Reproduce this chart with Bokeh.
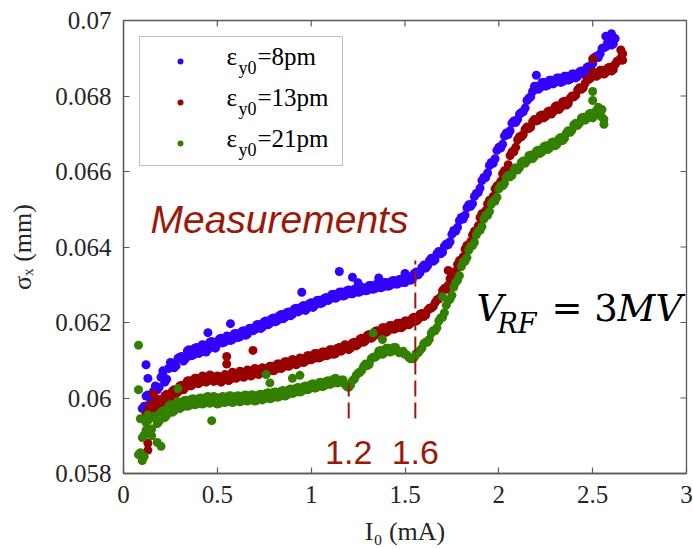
from bokeh.plotting import figure
from bokeh.models import FixedTicker, CustomJSTickFormatter, Label, BoxAnnotation
from bokeh.embed import file_html
from bokeh.resources import INLINE

# ---------------- data ----------------
blue_x = [
    0.10, 0.12, 0.14, 0.16, 0.18, 0.20, 0.22, 0.24, 0.26, 0.28,
    0.30, 0.32, 0.34, 0.36, 0.38, 0.40, 0.42, 0.44, 0.46, 0.48,
    0.50, 0.52, 0.54, 0.56, 0.58, 0.60, 0.62, 0.64, 0.66, 0.68,
    0.70, 0.72, 0.74, 0.76, 0.78, 0.80, 0.82, 0.84, 0.86, 0.88,
    0.90, 0.92, 0.94, 0.96, 0.98, 1.00, 1.02, 1.04, 1.06, 1.08,
    1.10, 1.12, 1.14, 1.16, 1.18, 1.20, 1.22, 1.24, 1.26, 1.28,
    1.30, 1.32, 1.34, 1.36, 1.38, 1.40, 1.42, 1.44, 1.46, 1.48,
    1.50, 1.52, 1.54, 1.56, 1.58, 1.60, 1.62, 1.64, 1.66, 1.68,
    1.70, 1.72, 1.74, 1.76, 1.78, 1.80, 1.82, 1.84, 1.86, 1.88,
    1.90, 1.92, 1.94, 1.96, 1.98, 2.00, 2.02, 2.04, 2.06, 2.08,
    2.10, 2.12, 2.14, 2.16, 2.18, 2.20, 2.22, 2.24, 2.26, 2.28,
    2.30, 2.32, 2.34, 2.36, 2.38, 2.40, 2.42, 2.44, 2.46, 2.48,
    2.50, 2.52, 2.54, 2.56, 2.58, 2.60, 2.62,
    0.11, 0.13, 0.15, 0.17, 0.19, 0.21, 0.23, 0.25, 0.27, 0.29,
    0.31, 0.33, 0.35, 0.37, 0.39, 0.41, 0.43, 0.45, 0.47, 0.49,
    0.51, 0.53, 0.55, 0.57, 0.59, 0.61, 0.63, 0.65, 0.67, 0.69,
    0.71, 0.73, 0.75, 0.77, 0.79, 0.81, 0.83, 0.85, 0.87, 0.89,
    0.91, 0.93, 0.95, 0.97, 0.99, 1.01, 1.03, 1.05, 1.07, 1.09,
    1.11, 1.13, 1.15, 1.17, 1.19, 1.21, 1.23, 1.25, 1.27, 1.29,
    1.31, 1.33, 1.35, 1.37, 1.39, 1.41, 1.43, 1.45, 1.47, 1.49,
    1.51, 1.53, 1.55, 1.57, 1.59, 1.61, 1.63, 1.65, 1.67, 1.69,
    1.71, 1.73, 1.75, 1.77, 1.79, 1.81, 1.83, 1.85, 1.87, 1.89,
    1.91, 1.93, 1.95, 1.97, 1.99, 2.01, 2.03, 2.05, 2.07, 2.09,
    2.11, 2.13, 2.15, 2.17, 2.19, 2.21, 2.23, 2.25, 2.27, 2.29,
    2.31, 2.33, 2.35, 2.37, 2.39, 2.41, 2.43, 2.45, 2.47, 2.49,
    2.51, 2.53, 2.55, 2.57, 2.59, 2.61,
    0.12, 0.13, 0.21, 0.45, 0.57, 0.95, 1.15, 1.22, 1.25, 1.36, 1.50, 2.20, 2.57, 2.60,
]
blue_y = [
    0.05972, 0.06005, 0.05985, 0.06018, 0.06022, 0.06055, 0.06042, 0.06078, 0.06092, 0.06085,
    0.06108, 0.06098, 0.06125, 0.06112, 0.06132, 0.06118, 0.06141, 0.06122, 0.06148, 0.06135,
    0.06142, 0.06158, 0.06149, 0.06163, 0.06155, 0.06171, 0.06162, 0.06178, 0.06169, 0.06185,
    0.06182, 0.06195, 0.06188, 0.06204, 0.06198, 0.06212, 0.06205, 0.06221, 0.06214, 0.06228,
    0.06222, 0.06238, 0.06231, 0.06245, 0.06238, 0.06252, 0.06246, 0.06259, 0.06252, 0.06266,
    0.06262, 0.06275, 0.06268, 0.06281, 0.06272, 0.06286, 0.06276, 0.06289, 0.06281, 0.06292,
    0.06285, 0.06298, 0.06290, 0.06302, 0.06294, 0.06306, 0.06298, 0.06311, 0.06302, 0.06314,
    0.06306, 0.06321, 0.06316, 0.06334, 0.06332, 0.06352, 0.06350, 0.06370, 0.06366, 0.06388,
    0.06386, 0.06408, 0.06414, 0.06444, 0.06452, 0.06478, 0.06484, 0.06512, 0.06515, 0.06542,
    0.06556, 0.06584, 0.06596, 0.06624, 0.06634, 0.06664, 0.06672, 0.06702, 0.06708, 0.06734,
    0.06738, 0.06756, 0.06768, 0.06794, 0.06812, 0.06826, 0.06822, 0.06836, 0.06828, 0.06842,
    0.06836, 0.06848, 0.06838, 0.06852, 0.06845, 0.06858, 0.06852, 0.06866, 0.06862, 0.06878,
    0.06886, 0.06905, 0.06912, 0.06928, 0.06942, 0.06935, 0.06952,
    0.05978, 0.06008, 0.05990, 0.06032, 0.06028, 0.06062, 0.06050, 0.06094, 0.06080, 0.06105,
    0.06110, 0.06104, 0.06128, 0.06114, 0.06134, 0.06122, 0.06140, 0.06128, 0.06150, 0.06132,
    0.06156, 0.06146, 0.06164, 0.06152, 0.06170, 0.06160, 0.06176, 0.06166, 0.06184, 0.06178,
    0.06194, 0.06184, 0.06202, 0.06194, 0.06210, 0.06202, 0.06218, 0.06210, 0.06226, 0.06218,
    0.06236, 0.06228, 0.06242, 0.06232, 0.06250, 0.06240, 0.06258, 0.06250, 0.06264, 0.06258,
    0.06274, 0.06264, 0.06280, 0.06270, 0.06284, 0.06276, 0.06288, 0.06280, 0.06292, 0.06284,
    0.06298, 0.06288, 0.06302, 0.06292, 0.06306, 0.06296, 0.06310, 0.06302, 0.06314, 0.06306,
    0.06318, 0.06312, 0.06330, 0.06326, 0.06346, 0.06344, 0.06364, 0.06362, 0.06382, 0.06382,
    0.06402, 0.06406, 0.06434, 0.06442, 0.06470, 0.06474, 0.06504, 0.06508, 0.06534, 0.06544,
    0.06576, 0.06584, 0.06616, 0.06622, 0.06656, 0.06662, 0.06694, 0.06698, 0.06728, 0.06730,
    0.06752, 0.06758, 0.06788, 0.06798, 0.06826, 0.06818, 0.06836, 0.06826, 0.06842, 0.06832,
    0.06848, 0.06836, 0.06852, 0.06842, 0.06858, 0.06848, 0.06864, 0.06858, 0.06876, 0.06878,
    0.06902, 0.06902, 0.06926, 0.06930, 0.06946, 0.06938,
    0.06088, 0.06052, 0.06072, 0.06173, 0.06197, 0.06280, 0.06335, 0.06320, 0.06305, 0.06318, 0.06330, 0.06855, 0.06958, 0.06965,
]

red_x = [
    0.12, 0.14, 0.16, 0.18, 0.20, 0.22, 0.24, 0.26, 0.28, 0.30,
    0.32, 0.34, 0.36, 0.38, 0.40, 0.42, 0.44, 0.46, 0.48, 0.50,
    0.52, 0.54, 0.56, 0.58, 0.60, 0.62, 0.64, 0.66, 0.68, 0.70,
    0.72, 0.74, 0.76, 0.78, 0.80, 0.82, 0.84, 0.86, 0.88, 0.90,
    0.92, 0.94, 0.96, 0.98, 1.00, 1.02, 1.04, 1.06, 1.08, 1.10,
    1.12, 1.14, 1.16, 1.18, 1.20, 1.22, 1.24, 1.26, 1.28, 1.30,
    1.32, 1.34, 1.36, 1.38, 1.40, 1.42, 1.44, 1.46, 1.48, 1.50,
    1.52, 1.54, 1.56, 1.58, 1.60, 1.62, 1.64, 1.66, 1.68, 1.70,
    1.72, 1.74, 1.76, 1.78, 1.80, 1.82, 1.84, 1.86, 1.88, 1.90,
    1.92, 1.94, 1.96, 1.98, 2.00, 2.02, 2.04, 2.06, 2.08, 2.10,
    2.12, 2.14, 2.16, 2.18, 2.20, 2.22, 2.24, 2.26, 2.28, 2.30,
    2.32, 2.34, 2.36, 2.38, 2.40, 2.42, 2.44, 2.46, 2.48, 2.50,
    2.52, 2.54, 2.56, 2.58, 2.60, 2.62, 2.64, 2.66,
    0.13, 0.15, 0.17, 0.19, 0.21, 0.23, 0.25, 0.27, 0.29, 0.31,
    0.33, 0.35, 0.37, 0.39, 0.41, 0.43, 0.45, 0.47, 0.49, 0.51,
    0.53, 0.55, 0.57, 0.59, 0.61, 0.63, 0.65, 0.67, 0.69, 0.71,
    0.73, 0.75, 0.77, 0.79, 0.81, 0.83, 0.85, 0.87, 0.89, 0.91,
    0.93, 0.95, 0.97, 0.99, 1.01, 1.03, 1.05, 1.07, 1.09, 1.11,
    1.13, 1.15, 1.17, 1.19, 1.21, 1.23, 1.25, 1.27, 1.29, 1.31,
    1.33, 1.35, 1.37, 1.39, 1.41, 1.43, 1.45, 1.47, 1.49, 1.51,
    1.53, 1.55, 1.57, 1.59, 1.61, 1.63, 1.65, 1.67, 1.69, 1.71,
    1.73, 1.75, 1.77, 1.79, 1.81, 1.83, 1.85, 1.87, 1.89, 1.91,
    1.93, 1.95, 1.97, 1.99, 2.01, 2.03, 2.05, 2.07, 2.09, 2.11,
    2.13, 2.15, 2.17, 2.19, 2.21, 2.23, 2.25, 2.27, 2.29, 2.31,
    2.33, 2.35, 2.37, 2.39, 2.41, 2.43, 2.45, 2.47, 2.49, 2.51,
    2.53, 2.55, 2.57, 2.59, 2.61, 2.63, 2.65,
    0.13, 0.13, 0.16, 0.55, 0.55, 0.69, 1.73, 2.50, 2.65, 2.66,
]
red_y = [
    0.05958, 0.05978, 0.05972, 0.05992, 0.05985, 0.06006, 0.05998, 0.06018, 0.06012, 0.06032,
    0.06022, 0.06045, 0.06032, 0.06052, 0.06038, 0.06058, 0.06042, 0.06061, 0.06044, 0.06058,
    0.06042, 0.06062, 0.06046, 0.06068, 0.06052, 0.06071, 0.06055, 0.06074, 0.06058, 0.06078,
    0.06062, 0.06080, 0.06066, 0.06084, 0.06072, 0.06090, 0.06078, 0.06096, 0.06084, 0.06102,
    0.06088, 0.06106, 0.06094, 0.06112, 0.06101, 0.06118, 0.06106, 0.06122, 0.06112, 0.06128,
    0.06116, 0.06132, 0.06124, 0.06141, 0.06128, 0.06146, 0.06138, 0.06156, 0.06148, 0.06166,
    0.06158, 0.06176, 0.06168, 0.06186, 0.06174, 0.06192, 0.06182, 0.06198, 0.06186, 0.06204,
    0.06194, 0.06212, 0.06204, 0.06222, 0.06216, 0.06232, 0.06238, 0.06252, 0.06262, 0.06284,
    0.06288, 0.06316, 0.06326, 0.06354, 0.06364, 0.06394, 0.06404, 0.06432, 0.06442, 0.06478,
    0.06486, 0.06514, 0.06524, 0.06554, 0.06562, 0.06594, 0.06602, 0.06642, 0.06652, 0.06684,
    0.06692, 0.06712, 0.06714, 0.06732, 0.06734, 0.06748, 0.06742, 0.06758, 0.06752, 0.06772,
    0.06764, 0.06784, 0.06776, 0.06794, 0.06798, 0.06816, 0.06818, 0.06834, 0.06844, 0.06862,
    0.06852, 0.06868, 0.06858, 0.06874, 0.06866, 0.06884, 0.06894, 0.06912,
    0.05962, 0.05982, 0.05976, 0.05996, 0.05990, 0.06010, 0.06002, 0.06022, 0.06016, 0.06034,
    0.06028, 0.06046, 0.06036, 0.06052, 0.06042, 0.06056, 0.06046, 0.06058, 0.06046, 0.06056,
    0.06046, 0.06060, 0.06050, 0.06066, 0.06056, 0.06069, 0.06059, 0.06072, 0.06062, 0.06076,
    0.06066, 0.06078, 0.06070, 0.06084, 0.06076, 0.06090, 0.06082, 0.06096, 0.06088, 0.06100,
    0.06092, 0.06104, 0.06098, 0.06112, 0.06104, 0.06118, 0.06108, 0.06122, 0.06114, 0.06128,
    0.06118, 0.06134, 0.06128, 0.06140, 0.06132, 0.06148, 0.06142, 0.06158, 0.06152, 0.06168,
    0.06162, 0.06178, 0.06172, 0.06186, 0.06178, 0.06192, 0.06184, 0.06198, 0.06190, 0.06204,
    0.06198, 0.06214, 0.06208, 0.06224, 0.06220, 0.06238, 0.06242, 0.06260, 0.06268, 0.06290,
    0.06298, 0.06326, 0.06336, 0.06364, 0.06374, 0.06404, 0.06414, 0.06442, 0.06456, 0.06488,
    0.06496, 0.06524, 0.06534, 0.06562, 0.06574, 0.06602, 0.06618, 0.06652, 0.06664, 0.06692,
    0.06698, 0.06718, 0.06718, 0.06738, 0.06736, 0.06750, 0.06746, 0.06760, 0.06758, 0.06774,
    0.06770, 0.06786, 0.06780, 0.06800, 0.06802, 0.06822, 0.06822, 0.06844, 0.06848, 0.06862,
    0.06856, 0.06868, 0.06862, 0.06876, 0.06870, 0.06892, 0.06900,
    0.05880, 0.05862, 0.06010, 0.06110, 0.06090, 0.06126, 0.06338, 0.06898, 0.06922, 0.06895,
]

green_x = [
    0.10, 0.12, 0.14, 0.16, 0.18, 0.20, 0.22, 0.24, 0.26, 0.28,
    0.30, 0.32, 0.34, 0.36, 0.38, 0.40, 0.42, 0.44, 0.46, 0.48,
    0.50, 0.52, 0.54, 0.56, 0.58, 0.60, 0.62, 0.64, 0.66, 0.68,
    0.70, 0.72, 0.74, 0.76, 0.78, 0.80, 0.82, 0.84, 0.86, 0.88,
    0.90, 0.92, 0.94, 0.96, 0.98, 1.00, 1.02, 1.04, 1.06, 1.08,
    1.10, 1.12, 1.14, 1.16, 1.18, 1.20, 1.22, 1.24, 1.26, 1.28,
    1.30, 1.32, 1.34, 1.36, 1.38, 1.40, 1.42, 1.44, 1.46, 1.48,
    1.50, 1.52, 1.54, 1.56, 1.58, 1.60, 1.62, 1.64, 1.66, 1.68,
    1.70, 1.72, 1.74, 1.76, 1.78, 1.80, 1.82, 1.84, 1.86, 1.88,
    1.90, 1.92, 1.94, 1.96, 1.98, 2.00, 2.02, 2.04, 2.06, 2.08,
    2.10, 2.12, 2.14, 2.16, 2.18, 2.20, 2.22, 2.24, 2.26, 2.28,
    2.30, 2.32, 2.34, 2.36, 2.38, 2.40, 2.42, 2.44, 2.46, 2.48,
    2.50, 2.52, 2.54, 2.56,
    0.11, 0.13, 0.15, 0.17, 0.19, 0.21, 0.23, 0.25, 0.27, 0.29,
    0.31, 0.33, 0.35, 0.37, 0.39, 0.41, 0.43, 0.45, 0.47, 0.49,
    0.51, 0.53, 0.55, 0.57, 0.59, 0.61, 0.63, 0.65, 0.67, 0.69,
    0.71, 0.73, 0.75, 0.77, 0.79, 0.81, 0.83, 0.85, 0.87, 0.89,
    0.91, 0.93, 0.95, 0.97, 0.99, 1.01, 1.03, 1.05, 1.07, 1.09,
    1.11, 1.13, 1.15, 1.17, 1.19, 1.21, 1.23, 1.25, 1.27, 1.29,
    1.31, 1.33, 1.35, 1.37, 1.39, 1.41, 1.43, 1.45, 1.47, 1.49,
    1.51, 1.53, 1.55, 1.57, 1.59, 1.61, 1.63, 1.65, 1.67, 1.69,
    1.71, 1.73, 1.75, 1.77, 1.79, 1.81, 1.83, 1.85, 1.87, 1.89,
    1.91, 1.93, 1.95, 1.97, 1.99, 2.01, 2.03, 2.05, 2.07, 2.09,
    2.11, 2.13, 2.15, 2.17, 2.19, 2.21, 2.23, 2.25, 2.27, 2.29,
    2.31, 2.33, 2.35, 2.37, 2.39, 2.41, 2.43, 2.45, 2.47, 2.49,
    2.51, 2.53, 2.55,
    0.08, 0.08, 0.08, 0.09, 0.10, 0.11, 0.09, 0.12, 0.13, 0.15, 0.18, 0.20, 0.29,
    0.47, 0.76, 0.78, 0.90, 0.94, 1.33, 1.38, 1.70, 2.50, 2.50, 2.55, 2.56, 2.53,
]
green_y = [
    0.05895, 0.05935, 0.05912, 0.05948, 0.05932, 0.05962, 0.05948, 0.05978, 0.05962, 0.05985,
    0.05972, 0.05992, 0.05978, 0.05996, 0.05982, 0.05998, 0.05984, 0.06002, 0.05986, 0.06004,
    0.05984, 0.06002, 0.05988, 0.06005, 0.05988, 0.06004, 0.05990, 0.06006, 0.05992, 0.06008,
    0.05992, 0.06008, 0.05995, 0.06012, 0.05998, 0.06015, 0.06002, 0.06018, 0.06005, 0.06021,
    0.06012, 0.06026, 0.06016, 0.06030, 0.06022, 0.06036, 0.06026, 0.06040, 0.06030, 0.06044,
    0.06036, 0.06050, 0.06040, 0.06048, 0.06036, 0.06028, 0.06046, 0.06060, 0.06068, 0.06084,
    0.06086, 0.06104, 0.06108, 0.06124, 0.06116, 0.06132, 0.06122, 0.06134, 0.06124, 0.06122,
    0.06116, 0.06108, 0.06104, 0.06118, 0.06126, 0.06144, 0.06148, 0.06172, 0.06178, 0.06204,
    0.06214, 0.06246, 0.06262, 0.06294, 0.06312, 0.06348, 0.06362, 0.06392, 0.06404, 0.06432,
    0.06444, 0.06474, 0.06484, 0.06514, 0.06522, 0.06554, 0.06562, 0.06584, 0.06586, 0.06604,
    0.06604, 0.06624, 0.06622, 0.06642, 0.06634, 0.06654, 0.06648, 0.06666, 0.06658, 0.06676,
    0.06668, 0.06686, 0.06682, 0.06702, 0.06704, 0.06724, 0.06722, 0.06742, 0.06736, 0.06752,
    0.06742, 0.06762, 0.06748, 0.06738,
    0.05902, 0.05940, 0.05918, 0.05952, 0.05938, 0.05966, 0.05954, 0.05982, 0.05966, 0.05990,
    0.05976, 0.05994, 0.05980, 0.05998, 0.05984, 0.06000, 0.05986, 0.06004, 0.05988, 0.06002,
    0.05986, 0.06004, 0.05990, 0.06006, 0.05990, 0.06006, 0.05992, 0.06008, 0.05994, 0.06008,
    0.05994, 0.06010, 0.05998, 0.06014, 0.06000, 0.06016, 0.06004, 0.06020, 0.06008, 0.06024,
    0.06014, 0.06028, 0.06018, 0.06032, 0.06024, 0.06038, 0.06028, 0.06042, 0.06032, 0.06046,
    0.06038, 0.06052, 0.06042, 0.06048, 0.06030, 0.06034, 0.06050, 0.06066, 0.06074, 0.06090,
    0.06090, 0.06108, 0.06112, 0.06126, 0.06120, 0.06132, 0.06124, 0.06134, 0.06120, 0.06124,
    0.06114, 0.06104, 0.06108, 0.06120, 0.06132, 0.06148, 0.06156, 0.06178, 0.06186, 0.06212,
    0.06226, 0.06258, 0.06272, 0.06306, 0.06324, 0.06360, 0.06372, 0.06402, 0.06412, 0.06442,
    0.06454, 0.06484, 0.06494, 0.06522, 0.06532, 0.06562, 0.06568, 0.06590, 0.06590, 0.06610,
    0.06610, 0.06628, 0.06628, 0.06644, 0.06640, 0.06656, 0.06652, 0.06668, 0.06662, 0.06678,
    0.06672, 0.06690, 0.06688, 0.06708, 0.06710, 0.06728, 0.06728, 0.06744, 0.06740, 0.06754,
    0.06748, 0.06758, 0.06744,
    0.06140, 0.06022, 0.05850, 0.05855, 0.05834, 0.05845, 0.05945, 0.05915, 0.05955, 0.05900, 0.05882, 0.05872, 0.06025,
    0.05940, 0.06062, 0.06040, 0.06052, 0.06060, 0.06172, 0.06155, 0.06268, 0.06812, 0.06788, 0.06764, 0.06725, 0.06770,
]

series_names = ["8pm", "13pm", "21pm"]
series_colors = ["#3300ff", "#990000", "#338000"]

x_ticks = [0, 0.5, 1, 1.5, 2, 2.5, 3]
y_ticks = [0.058, 0.060, 0.062, 0.064, 0.066, 0.068, 0.070]

mark_x = [1.2, 1.555]
mark_y0 = [0.05946, 0.05946]
mark_y1 = [0.0604, 0.06364]
mark_labels = ["1.2", "1.6"]

# ---------------- layout helpers ----------------
W, H = 693, 549
L, R, T, B = 123, 7, 20, 76
X0, X1 = 0.0, 3.0
Y0, Y1 = 0.058, 0.070
FW = W - L - R
FH = H - T - B
KB = 0.38  # baseline compensation for Label text (fraction of font size)


def sx(px):
    return X0 + (px - L) * (X1 - X0) / FW


def sy(py):
    return Y0 + (H - B - py) * (Y1 - Y0) / FH


DARK = "#262626"
AXC = "#5a5a5a"
ANNO = "#9a1a0a"

p = figure(width=W, height=H, x_range=(X0, X1), y_range=(Y0, Y1),
           output_backend="svg", toolbar_location=None,
           min_border_left=L, min_border_right=R, min_border_top=T, min_border_bottom=B)
p.grid.visible = False
p.outline_line_color = AXC
p.outline_line_width = 1.3
p.background_fill_color = "white"
p.border_fill_color = "white"


def text_at(px, py_base, txt, size, font, style="normal", color="black", align="left"):
    p.add_layout(Label(x=sx(px), y=sy(py_base - KB * size), text=txt,
                       text_align=align, text_baseline="alphabetic",
                       text_font=font, text_font_style=style,
                       text_font_size=f"{size}px", text_color=color))


fmt = CustomJSTickFormatter(code="return String(parseFloat(tick.toFixed(4)));")

for ax, ticks in [(p.xaxis[0], x_ticks), (p.yaxis[0], y_ticks)]:
    ax.ticker = FixedTicker(ticks=ticks)
    ax.formatter = fmt
    ax.axis_line_color = AXC
    ax.axis_line_width = 1.3
    ax.major_tick_line_color = AXC
    ax.major_tick_line_width = 1.2
    ax.major_tick_in = 6
    ax.major_tick_out = 0
    ax.minor_tick_line_color = None
    ax.major_label_text_font = "Liberation Serif"
    ax.major_label_text_color = DARK
    ax.major_label_text_font_size = "25px"
    ax.major_label_standoff = 12
    ax.axis_label_text_font = "Liberation Serif"
    ax.axis_label_text_font_style = "normal"
    ax.axis_label_text_font_size = "26px"
    ax.axis_label_text_color = DARK

p.xaxis[0].axis_label = "I\u2080 (mA)"
p.xaxis[0].axis_label_standoff = 11
p.yaxis[0].axis_label = "\u03c3\u2093 (mm)"
p.yaxis[0].axis_label_standoff = 15

# inward ticks on the top and right edges of the box
tick_dy = 6 * (Y1 - Y0) / FH
tick_dx = 6 * (X1 - X0) / FW
p.segment(x0=x_ticks, y0=[Y1] * len(x_ticks), x1=x_ticks, y1=[Y1 - tick_dy] * len(x_ticks),
          line_color=AXC, line_width=1.2)
p.segment(x0=[X1] * len(y_ticks), y0=y_ticks, x1=[X1 - tick_dx] * len(y_ticks), y1=y_ticks,
          line_color=AXC, line_width=1.2)

# ---------------- data marks ----------------
for xs, ys, c in [(blue_x, blue_y, series_colors[0]),
                  (red_x, red_y, series_colors[1]),
                  (green_x, green_y, series_colors[2])]:
    p.scatter(xs, ys, size=9, color=c, line_color=None)

# dashed markers
p.segment(x0=mark_x, y0=mark_y0, x1=mark_x, y1=mark_y1,
          line_color=ANNO, line_width=2, line_dash="16 6")
for mx, lab in zip(mark_x, mark_labels):
    p.add_layout(Label(x=mx, y=sy(465 - KB * 34), text=lab, text_align="center",
                       text_baseline="alphabetic", text_font="Liberation Sans",
                       text_font_size="34px", text_color=ANNO))

text_at(150, 234, "Measurements", 39, "Liberation Sans", "italic", ANNO)

# V_RF = 3MV
vf = "DejaVu Serif"
text_at(476, 322, "V", 37, vf, "italic")
text_at(497, 333, "RF", 27, vf, "italic")
text_at(551, 322, "= 3", 37, vf)
text_at(617, 322, "MV", 37, vf, "italic")

# ---------------- legend (drawn by hand for subscripts) ----------------
p.add_layout(BoxAnnotation(left=sx(139), right=sx(342), top=sy(36), bottom=sy(165),
                           fill_color="white", fill_alpha=1.0, line_color=DARK,
                           line_width=1, level="underlay"))
row_base = [65, 106, 147]
leg_mx = [sx(180)] * 3
leg_my = [sy(b - 4) for b in row_base]
p.scatter(leg_mx, leg_my, size=6, color=series_colors, line_color=None)
for b, name in zip(row_base, series_names):
    text_at(226, b, "ε", 25, "Liberation Serif")
    text_at(238, b + 9, "y0", 18, "Liberation Serif")
    text_at(257, b, "=" + name, 25, "Liberation Serif")

open("out.html", "w").write(file_html(p, INLINE))
